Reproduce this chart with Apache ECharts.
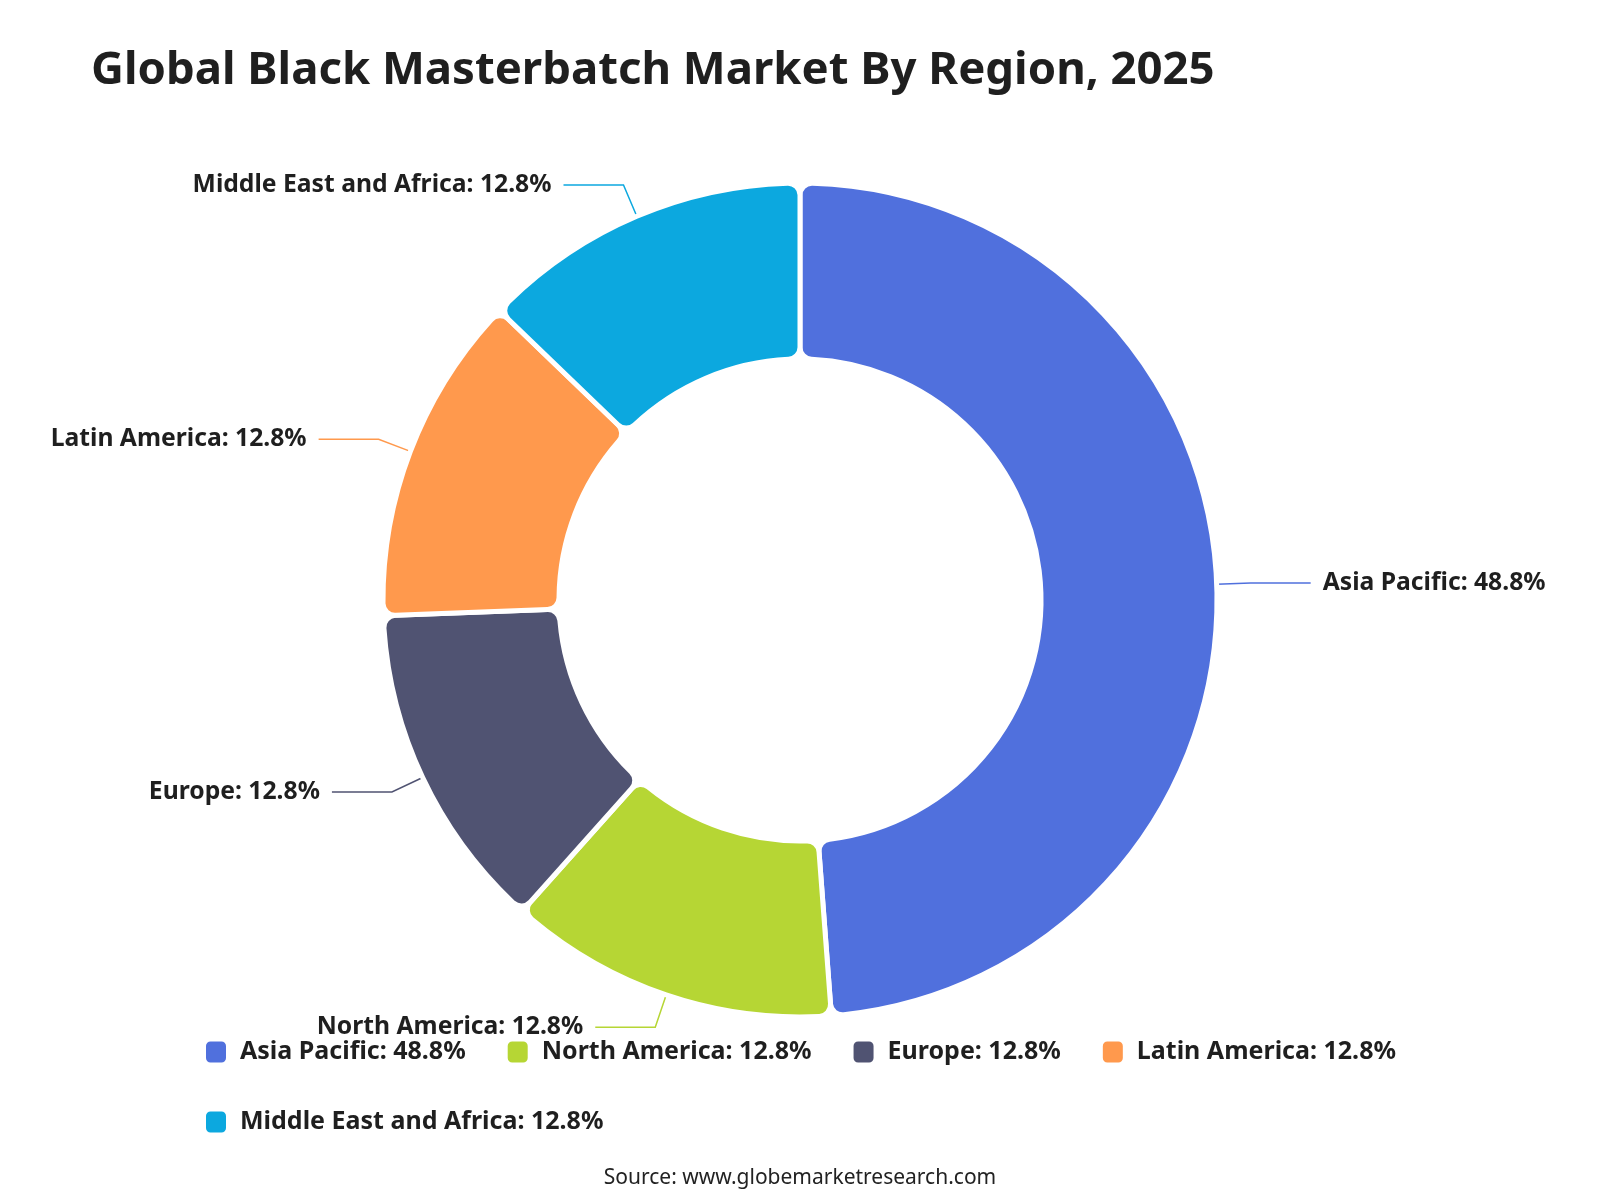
<!DOCTYPE html>
<html>
<head>
<meta charset="utf-8">
<script src="https://cdn.jsdelivr.net/npm/echarts@6/dist/echarts.min.js"></script>
<style>
  html, body { margin: 0; padding: 0; background: #fff; }
  #chart { width: 1600px; height: 1200px; }
</style>
</head>
<body>
<div id="chart"></div>
<script>
// data
var regions = ['Asia Pacific', 'North America', 'Europe', 'Latin America', 'Middle East and Africa'];
var shares = [48.8, 12.8, 12.8, 12.8, 12.8];
var colors = ['#5070dd', '#b6d634', '#505372', '#ff994d', '#0ca8df'];

var font = "'Noto Sans', 'Open Sans', sans-serif";
var pieData = regions.map(function (r, i) {
  return { name: r, value: shares[i] };
});

var chart = echarts.init(document.getElementById('chart'));
chart.setOption({
  color: colors,
  animation: false,
  title: {
    text: 'Global Black Masterbatch Market By Region, 2025',
    left: 86,
    top: 43,
    textStyle: { fontFamily: font, fontSize: 45.5, fontWeight: 'bold', color: '#1f1f1f' }
  },
  legend: {
    left: 199,
    top: 1032,
    width: 1320,
    itemGap: 40,
    itemWidth: 22,
    itemHeight: 23,
    icon: 'roundRect',
    textStyle: {
      fontFamily: font, fontSize: 25, fontWeight: 'bold', color: '#1f1f1f',
      lineHeight: 30, padding: [0, 0, 0, 8]
    },
    formatter: function (name) {
      var i = regions.indexOf(name);
      return name + ': ' + shares[i] + '%';
    }
  },
  graphic: [{
    type: 'text',
    left: 'center',
    top: 1168,
    style: {
      text: 'Source: www.globemarketresearch.com',
      fontFamily: font,
      fontSize: 21,
      fill: '#222'
    }
  }],
  series: [{
    type: 'pie',
    center: [800, 600],
    radius: [241, 417],
    startAngle: 90,
    clockwise: true,
    itemStyle: { borderRadius: 12, borderColor: '#fff', borderWidth: 5 },
    label: {
      show: true,
      formatter: '{b}: {c}%',
      fontFamily: font,
      fontSize: 24.7,
      fontWeight: 'bold',
      color: '#1f1f1f',
      distanceToLabelLine: 12
    },
    labelLine: { length: 34, length2: 60, lineStyle: { width: 1.5 } },
    emphasis: { disabled: true },
    data: pieData
  }]
});
</script>
</body>
</html>
